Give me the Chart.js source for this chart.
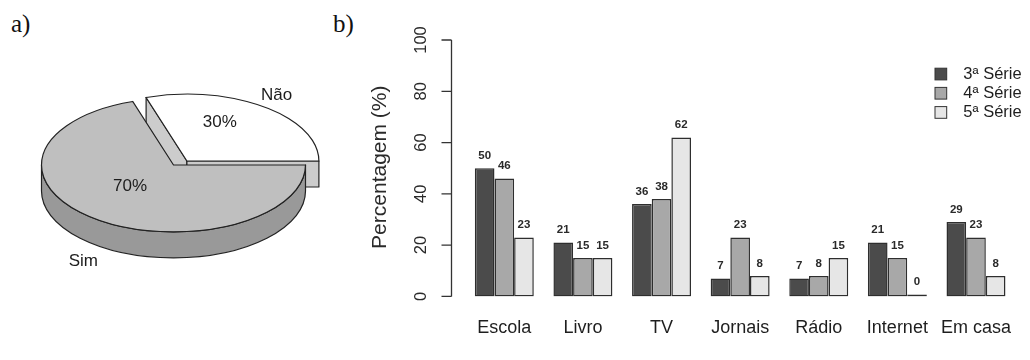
<!DOCTYPE html>
<html><head><meta charset="utf-8">
<script src="https://cdn.jsdelivr.net/npm/chart.js@4.4.0/dist/chart.umd.min.js"></script>
<style>
html,body{margin:0;padding:0;background:#fff;}
body{width:1030px;height:360px;overflow:hidden;position:relative;}
canvas{position:absolute;}
.tag{position:absolute;font-family:'Liberation Serif',serif;font-size:25px;line-height:25px;color:#111;}
</style></head><body>
<div class="tag" style="left:11px;top:11px">a)</div>
<div class="tag" style="left:333px;top:11px">b)</div>
<canvas id="pie" width="330" height="360" style="left:0;top:0"></canvas>
<canvas id="bar" width="702" height="360" style="left:330px;top:0"></canvas>
<script>
// ---------- data ----------
const pieLabels = ['Não', 'Sim'];
const pieValues = [30, 70];

const categories = ['Escola', 'Livro', 'TV', 'Jornais', 'Rádio', 'Internet', 'Em casa'];
const seriesNames = ['3ª Série', '4ª Série', '5ª Série'];
const serie3 = [50, 21, 36, 7, 7, 21, 29];
const serie4 = [46, 15, 38, 23, 8, 15, 23];
const serie5 = [23, 15, 62, 8, 15, 0, 8];
const yTicks = [0, 20, 40, 60, 80, 100];
const yTitle = 'Percentagem (%)';

// ---------- styling ----------
Chart.defaults.font.family = "'Liberation Sans', Arial, sans-serif";
const FONT = "'Liberation Sans', Arial, sans-serif";
const pieTop = ['#ffffff', '#bfbfbf'];
const pieSide = ['#cccccc', '#999999'];
const SQ = 0.506;        // vertical squash of the pie
const CY_SCREEN = 165;   // screen y of pie centre
const DEPTH = 26;        // screen depth of the pie
const EXPLODE = [[13.4, -4], [0, 0]]; // screen shift per slice
// label polar placement (unsquashed radius, angle deg)
const pctPos = [[83, -66.6], [60, 136.3]];
const namePos = [[158, -55.4], [166, 122.9]];

function toScreen(chart, x, y) {
  const ca = chart.chartArea;
  const cy = (ca.top + ca.bottom) / 2;
  return [x, CY_SCREEN + (y - cy) * SQ];
}

const pie3d = {
  id: 'pie3d',
  afterDatasetsUpdate(chart) {
    const arcs = chart.getDatasetMeta(0).data;
    arcs.forEach((a, i) => { a.x += EXPLODE[i][0]; a.y += EXPLODE[i][1] / SQ; });
  },
  beforeDatasetsDraw(chart) {
    const ctx = chart.ctx, ca = chart.chartArea;
    const cy = (ca.top + ca.bottom) / 2;
    ctx.save();
    ctx.translate(0, CY_SCREEN - cy * SQ);
    ctx.scale(1, SQ);
    const D = DEPTH / SQ;
    const arcs = chart.getDatasetMeta(0).data;
    const strokeFlat = () => {
      ctx.save(); ctx.setTransform(1, 0, 0, 1, 0, 0);
      ctx.lineWidth = 1.2; ctx.strokeStyle = '#222'; ctx.lineJoin = 'round';
      ctx.stroke(); ctx.restore();
    };
    // radial cut faces
    arcs.forEach((a, i) => {
      [[a.startAngle, -Math.cos(a.startAngle)], [a.endAngle, Math.cos(a.endAngle)]].forEach(([ang, vis]) => {
        if (vis <= 0.001) return;
        const r = a.outerRadius;
        const px = a.x + r * Math.cos(ang), py = a.y + r * Math.sin(ang);
        ctx.beginPath();
        ctx.moveTo(a.x, a.y); ctx.lineTo(px, py); ctx.lineTo(px, py + D); ctx.lineTo(a.x, a.y + D); ctx.closePath();
        ctx.fillStyle = pieSide[i]; ctx.fill(); strokeFlat();
      });
    });
    // front rims
    arcs.forEach((a, i) => {
      const s = a.startAngle, e = a.endAngle, r = a.outerRadius;
      for (let k = -1; k <= 1; k++) {
        const lo = Math.max(s, k * 2 * Math.PI), hi = Math.min(e, k * 2 * Math.PI + Math.PI);
        if (hi <= lo) continue;
        ctx.beginPath();
        ctx.arc(a.x, a.y, r, lo, hi, false);
        ctx.lineTo(a.x + r * Math.cos(hi), a.y + D + r * Math.sin(hi));
        ctx.arc(a.x, a.y + D, r, hi, lo, true);
        ctx.closePath();
        ctx.fillStyle = pieSide[i]; ctx.fill(); strokeFlat();
      }
    });
  },
  afterDatasetsDraw(chart) {
    const ctx = chart.ctx;
    const arcs = chart.getDatasetMeta(0).data;
    // outlines of the tops (still in squashed space)
    arcs.forEach(a => {
      ctx.beginPath();
      ctx.moveTo(a.x, a.y);
      ctx.arc(a.x, a.y, a.outerRadius, a.startAngle, a.endAngle, false);
      ctx.closePath();
      ctx.save(); ctx.setTransform(1, 0, 0, 1, 0, 0);
      ctx.lineWidth = 1.2; ctx.strokeStyle = '#222'; ctx.lineJoin = 'miter';
      ctx.stroke(); ctx.restore();
    });
    ctx.restore();
    // labels
    ctx.save();
    ctx.font = '17px ' + FONT;
    ctx.fillStyle = '#1c1c1c';
    ctx.textAlign = 'center'; ctx.textBaseline = 'middle';
    arcs.forEach((a, i) => {
      const v = chart.data.datasets[0].data[i];
      let [r, deg] = pctPos[i]; let t = deg * Math.PI / 180;
      let [sx, sy] = toScreen(chart, a.x + r * Math.cos(t), a.y + r * Math.sin(t));
      ctx.fillText(v + '%', sx, sy);
      [r, deg] = namePos[i]; t = deg * Math.PI / 180;
      [sx, sy] = toScreen(chart, a.x + r * Math.cos(t), a.y + r * Math.sin(t));
      if (Math.sin(t) > 0) sy += DEPTH;
      ctx.fillText(chart.data.labels[i], sx, sy);
    });
    ctx.restore();
  }
};

new Chart(document.getElementById('pie'), {
  type: 'pie',
  data: {
    labels: pieLabels,
    datasets: [{ data: pieValues, backgroundColor: pieTop, borderWidth: 0, clip: false }]
  },
  options: {
    responsive: false, animation: false, devicePixelRatio: 1,
    rotation: -18, radius: 132,
    layout: { padding: { left: 17, right: 0, top: 0, bottom: 0 } },
    plugins: { legend: { display: false }, tooltip: { enabled: false } }
  },
  plugins: [pie3d]
});

// ---------- bar chart ----------
const barColors = ['#4b4b4b', '#a8a8a8', '#e6e6e6'];
const barDecor = {
  id: 'barDecor',
  afterDatasetsDraw(chart) {
    const ctx = chart.ctx;
    ctx.save();
    ctx.font = 'bold 11.5px ' + FONT;
    ctx.fillStyle = '#2a2a2a';
    ctx.textAlign = 'center'; ctx.textBaseline = 'middle';
    chart.data.datasets.forEach((ds, di) => {
      chart.getDatasetMeta(di).data.forEach((el, i) => {
        ctx.fillText(String(ds.data[i]), el.x, el.y - 12.3);
      });
    });
    ctx.restore();
  },
  afterDraw(chart) {
    const ctx = chart.ctx, ca = chart.chartArea, ys = chart.scales.y;
    const axX = 121.5;
    ctx.save();
    ctx.strokeStyle = '#333'; ctx.lineWidth = 1.3;
    ctx.beginPath();
    ctx.moveTo(axX, ys.getPixelForValue(yTicks[0]));
    ctx.lineTo(axX, ys.getPixelForValue(yTicks[yTicks.length - 1]));
    yTicks.forEach(v => { const p = ys.getPixelForValue(v); ctx.moveTo(axX, p); ctx.lineTo(axX - 10, p); });
    ctx.stroke();
    ctx.fillStyle = '#2a2a2a';
    ctx.textAlign = 'center'; ctx.textBaseline = 'middle';
    ctx.font = '16.5px ' + FONT;
    yTicks.forEach(v => {
      const p = ys.getPixelForValue(v);
      ctx.save(); ctx.translate(axX - 30, p); ctx.rotate(-Math.PI / 2);
      ctx.fillText(String(v), 0, 0); ctx.restore();
    });
    ctx.font = '21px ' + FONT;
    ctx.save(); ctx.translate(axX - 71.5, (ca.top + ca.bottom) / 2 - 1); ctx.rotate(-Math.PI / 2);
    ctx.fillText(yTitle, 0, 0); ctx.restore();
    // legend
    ctx.font = '16.5px ' + FONT;
    ctx.textAlign = 'left';
    chart.data.datasets.forEach((ds, i) => {
      const cy = 74 + i * 19.2;
      ctx.fillStyle = ds.backgroundColor;
      ctx.fillRect(605, cy - 5.8, 11.7, 11.7);
      ctx.lineWidth = 1; ctx.strokeStyle = '#333';
      ctx.strokeRect(605, cy - 5.8, 11.7, 11.7);
      ctx.fillStyle = '#1e1e1e';
      ctx.fillText(ds.label, 633.3, cy);
    });
    ctx.restore();
  }
};

new Chart(document.getElementById('bar'), {
  type: 'bar',
  data: {
    labels: categories,
    datasets: [serie3, serie4, serie5].map((d, i) => ({
      label: seriesNames[i], data: d,
      backgroundColor: barColors[i], borderColor: '#2e2e2e', borderWidth: 1.5,
      borderSkipped: false, minBarLength: 2,
      categoryPercentage: 0.75, barPercentage: 1
    }))
  },
  options: {
    responsive: false, animation: false, devicePixelRatio: 1,
    layout: { padding: { left: 135, right: 0, top: 40, bottom: 0 } },
    plugins: { legend: { display: false }, tooltip: { enabled: false } },
    scales: {
      x: {
        grid: { display: false, drawTicks: false }, border: { display: false },
        ticks: { padding: 21, color: '#1e1e1e', font: { size: 18 } }
      },
      y: {
        display: false, min: 0, max: 100,
        afterBuildTicks: s => { s.ticks = yTicks.map(v => ({ value: v })); }
      }
    }
  },
  plugins: [barDecor]
});
</script>
</body></html>
